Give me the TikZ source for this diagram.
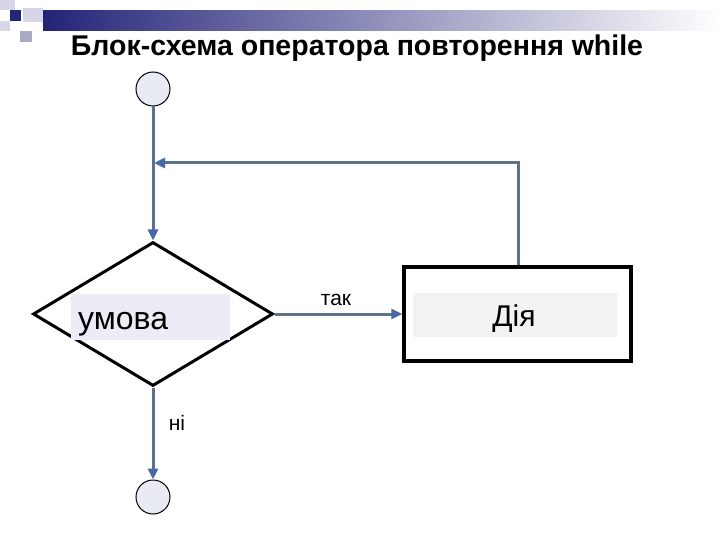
\documentclass[tikz,border=0pt]{standalone}
\usepackage{fontspec}
\setmainfont{Liberation Sans}
\usetikzlibrary{shapes.geometric,arrows.meta}
\definecolor{linec}{RGB}{92,114,140}
\definecolor{tipc}{RGB}{72,104,168}
\definecolor{circfill}{RGB}{232,234,244}
\definecolor{lavbox}{RGB}{236,236,246}
\definecolor{graybox}{RGB}{242,242,242}
\definecolor{navy}{RGB}{36,36,120}
\definecolor{sqlight}{RGB}{214,214,232}
\definecolor{sqmid}{RGB}{170,170,200}
\tikzset{
  conn/.style={draw=linec, line width=3pt, -{Triangle[length=11pt,width=10pt,color=tipc,fill=tipc]}},
  term/.style={circle, draw=black, line width=1pt, fill=circfill, minimum size=34pt, inner sep=0pt},
  decision/.style={diamond, draw=black, line width=3pt, minimum width=240pt, minimum height=144pt, inner sep=0pt},
  process/.style={rectangle, draw=black, line width=3.4pt, minimum width=227pt, minimum height=94pt, inner sep=0pt},
  lbl/.style={font=\fontsize{21}{23}\selectfont, inner sep=0pt}
}
\begin{document}
\begin{tikzpicture}[x=1pt,y=-1pt]
\useasboundingbox (0,0) rectangle (720,540);
% header decoration
\shade[left color=navy, right color=white, middle color=navy!50!white] (43,11) rectangle (720,31);
\fill[sqlight] (0,0) rectangle (15,10);
\fill[sqlight] (23,8) rectangle (43,22);
\fill[navy] (10,10) rectangle (21,21);
\fill[sqmid] (20,31) rectangle (32,42);
\fill[sqlight] (0,21) rectangle (10,31);
% title
\node[font=\bfseries\fontsize{28.5}{31}\selectfont, anchor=base, inner sep=0pt] (title) at (357,56) {Блок-схема оператора повторення while};
% shapes
\node[term] (start) at (153,89) {};
\node[term] (stop) at (153,497) {};
\node[decision] (cond) at (153,314) {};
\node[process] (act) at (517.5,314) {};
% inner label boxes
\node[fill=lavbox, minimum width=159pt, minimum height=46pt, inner sep=0pt] (condbox) at (150.5,317) {};
\node[font=\fontsize{32}{34}\selectfont, anchor=base west, inner sep=0pt] (condtxt) at (78,329) {умова};
\node[fill=graybox, minimum width=204pt, minimum height=44pt, inner sep=0pt] (actbox) at (515,315) {};
\node[font=\fontsize{30}{32}\selectfont, anchor=base, inner sep=0pt] (acttxt) at (514,326) {Дія};
% connectors
\draw[conn] (start.south) -- (cond.north);
\draw[conn] (cond.east) -- (act.west);
\draw[conn] (cond.south) -- (stop.north);
\coordinate (loopR) at (518,163);
\coordinate (loopL) at (154,163);
\draw[conn] (act.north -| loopR) -- (loopR) -- (loopL);
% labels
\node[lbl, anchor=base] (yes) at (336,305) {так};
\node[lbl, anchor=base] (no) at (177,430) {ні};
\end{tikzpicture}
\end{document}
